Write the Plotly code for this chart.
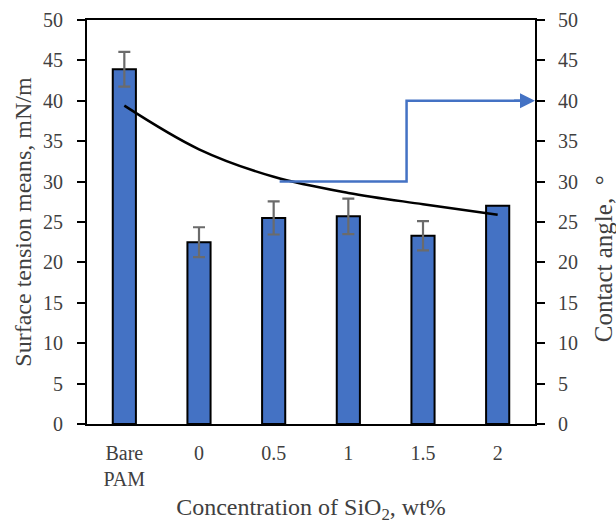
import plotly.graph_objects as go

# Categories and measured values
categories = ["Bare<br>PAM", "0", "0.5", "1", "1.5", "2"]
surface_tension = [43.9, 22.5, 25.5, 25.7, 23.3, 27.0]
tension_error = [2.15, 1.85, 2.05, 2.2, 1.8, None]
trend_values = [39.4, 34.0, 30.6, 28.6, 27.2, 25.9]

# Contact-angle pointer path (category position, contact angle)
pointer_x = [2.08, 3.78, 3.78, 5.3]
pointer_y = [30, 30, 40, 40]
pointer_tip = (5.5, 40)

y_ticks = list(range(0, 51, 5))
positions = list(range(len(categories)))

BLUE = "#4472C4"
FONT = "Liberation Serif"
TEXT = "#404040"

fig = go.Figure()

fig.add_trace(go.Bar(
    x=positions, y=surface_tension, width=0.31,
    marker=dict(color=BLUE, line=dict(color="black", width=2)),
    showlegend=False,
))

# error bars only where a spread was measured
err_idx = [i for i, e in enumerate(tension_error) if e is not None]
fig.add_trace(go.Scatter(
    x=[positions[i] for i in err_idx],
    y=[surface_tension[i] for i in err_idx],
    mode="markers", marker=dict(size=1, opacity=0),
    error_y=dict(type="data", array=[tension_error[i] for i in err_idx],
                 visible=True, color="#6b6b6b", thickness=2.2, width=6),
    showlegend=False, hoverinfo="skip",
))

fig.add_trace(go.Scatter(
    x=positions, y=trend_values, mode="lines",
    line=dict(color="black", width=2.5, shape="spline", smoothing=1.0),
    showlegend=False,
))

fig.add_trace(go.Scatter(
    x=pointer_x, y=pointer_y, mode="lines", yaxis="y2",
    line=dict(color=BLUE, width=2.5),
    showlegend=False,
))

fig.add_annotation(
    x=pointer_tip[0], y=pointer_tip[1], xref="x", yref="y2",
    ax=pointer_x[-1] - 0.1, ay=pointer_tip[1], axref="x", ayref="y2",
    showarrow=True, arrowhead=2, arrowsize=1.2, arrowwidth=2.5,
    arrowcolor=BLUE, text="",
)

# right-hand axis title
fig.add_annotation(
    text="Contact angle,&nbsp;&nbsp;°", textangle=-90,
    xref="paper", yref="paper", x=1.152, y=0.408,
    xanchor="center", yanchor="middle", showarrow=False,
    font=dict(family=FONT, size=25, color=TEXT),
)

axis_common = dict(
    range=[0, 50], tickvals=y_ticks, showline=True, linecolor="black",
    linewidth=2, ticks="outside", ticklen=8, tickwidth=2, tickcolor="black",
    showgrid=False, zeroline=False, automargin=False,
    tickfont=dict(family=FONT, size=20, color=TEXT),
)

fig.update_layout(
    width=616, height=524,
    margin=dict(l=87, r=81, t=20, b=100),
    plot_bgcolor="white", paper_bgcolor="white",
    xaxis=dict(
        range=[-0.5, 5.5], tickvals=positions, ticktext=categories,
        showline=True, linecolor="black", linewidth=2, mirror=True,
        ticks="", showgrid=False, zeroline=False, ticklabelstandoff=10,
        automargin=False,
        tickfont=dict(family=FONT, size=20, color=TEXT),
        title=dict(text="Concentration of SiO<sub>2</sub>, wt%", standoff=10,
                   font=dict(family=FONT, size=24, color=TEXT)),
    ),
    yaxis=dict(
        **axis_common, ticklabelstandoff=10,
        title=dict(text="Surface tension means, mN/m", standoff=5,
                   font=dict(family=FONT, size=24, color=TEXT)),
    ),
    yaxis2=dict(
        **axis_common, overlaying="y", side="right", ticklabelstandoff=9,
    ),
)

fig.write_html("out.html")
